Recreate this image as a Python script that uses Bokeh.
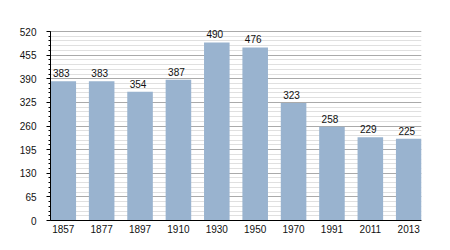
from bokeh.plotting import figure
from bokeh.models import ColumnDataSource, SingleIntervalTicker, Range1d, FactorRange
from bokeh.core.properties import value
from bokeh.embed import file_html
from bokeh.resources import INLINE

years = ["1857", "1877", "1897", "1910", "1930", "1950", "1970", "1991", "2011", "2013"]
population = [383, 383, 354, 387, 490, 476, 323, 258, 229, 225]

src = ColumnDataSource(dict(x=years, y=population, lab=[str(v) for v in population]))

p = figure(x_range=FactorRange(*years, range_padding=-0.167, range_padding_units="absolute"),
           y_range=Range1d(0, 520 + 12 * 520 / 189),
           width=450, height=250, output_backend="svg", toolbar_location=None,
           min_border_left=50, min_border_right=29, min_border_top=19, min_border_bottom=30)
p.outline_line_color = None
p.background_fill_color = "white"

p.vbar(x="x", top="y", width=0.666, source=src, fill_color="#99b3cf", line_color=None)
p.text(x="x", y="y", text="lab", source=src, text_align="center", text_baseline="bottom",
       x_offset=-2, y_offset=-4, text_font=value("Liberation Sans"), text_font_size="10px",
       text_color="#111111")

p.yaxis.ticker = SingleIntervalTicker(interval=65, num_minor_ticks=5)
p.yaxis.bounds = (0, 520)
p.ygrid.bounds = (0, 520)
p.ygrid.grid_line_color = "#aaaaaa"
p.ygrid.minor_grid_line_color = "#e0e0e0"
p.xgrid.grid_line_color = None

for ax in (p.xaxis, p.yaxis):
    ax.axis_line_color = "black"
    ax.major_label_text_font = "Liberation Sans"
    ax.major_label_text_font_size = "10px"
    ax.major_label_text_color = "#111111"

p.yaxis.major_tick_out = 4
p.yaxis.major_tick_in = 0
p.yaxis.minor_tick_out = 2
p.yaxis.minor_tick_in = 0
p.yaxis.major_label_standoff = 10
p.xaxis.major_tick_line_color = None
p.xaxis.minor_tick_line_color = None
p.xaxis.major_tick_out = 0
p.xaxis.major_tick_in = 0
p.xaxis.major_label_standoff = 4

open("out.html", "w").write(file_html(p, INLINE))
